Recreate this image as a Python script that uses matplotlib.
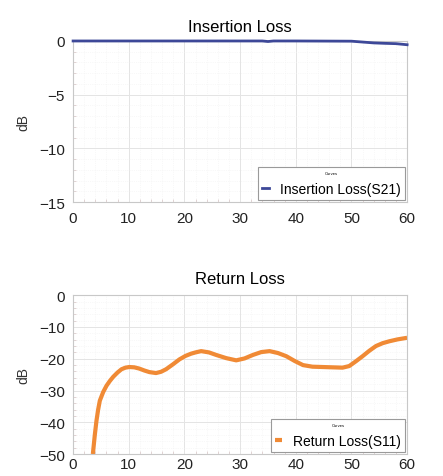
import matplotlib
matplotlib.use("Agg")
import matplotlib.pyplot as plt
from matplotlib.ticker import MultipleLocator

# --------------------------------------------------------------------------- #
# Data
# --------------------------------------------------------------------------- #
il_freq = [0, 10, 20, 30, 34, 35, 36, 40, 50, 52, 54, 56, 58, 60]
il_db = [0.0, 0.0, 0.0, 0.0, 0.0, -0.05, 0.0, 0.0, -0.02, -0.1, -0.18, -0.22, -0.25, -0.35]

rl_freq = [3.55, 3.9, 4.2, 4.5, 4.8, 5.4, 6.0, 6.6, 7.2, 8.0, 8.7, 9.4, 10.1, 11.0,
           11.9, 12.8, 13.7, 14.9, 15.8, 16.7, 17.9, 19.1, 20.2, 21.2, 22.0, 23.0,
           24.4, 25.7, 27.5, 29.3, 30.8, 32.3, 33.8, 35.3, 36.8, 38.3, 39.8, 41.3,
           43.0, 44.8, 46.6, 48.4, 49.6, 50.8, 52.0, 53.2, 54.4, 55.6, 56.8, 58.3, 60.0]
rl_db = [-50.0, -44.0, -39.5, -36.0, -33.2, -30.5, -28.5, -27.0, -25.7, -24.3, -23.3,
         -22.8, -22.6, -22.7, -23.1, -23.7, -24.2, -24.5, -24.1, -23.3, -21.8, -20.2,
         -19.1, -18.4, -18.0, -17.6, -18.0, -18.8, -19.8, -20.5, -19.9, -18.8, -17.9,
         -17.6, -18.2, -19.2, -20.7, -22.0, -22.5, -22.6, -22.7, -22.8, -22.3, -20.8,
         -19.2, -17.5, -16.0, -15.1, -14.5, -13.9, -13.4]

x_ticks = [0, 10, 20, 30, 40, 50, 60]
il_y_ticks = [0, -5, -10, -15]
rl_y_ticks = [0, -10, -20, -30, -40, -50]

FONT = ["Liberation Sans", "DejaVu Sans"]
plt.rcParams["font.family"] = FONT


def style_axes(ax, yticks, ylim, ystep_minor, xpad=6):
    ax.set_xlim(0, 60)
    ax.set_ylim(*ylim)
    ax.set_xticks(x_ticks)
    ax.set_yticks(yticks)
    ax.xaxis.set_minor_locator(MultipleLocator(2))
    ax.yaxis.set_minor_locator(MultipleLocator(ystep_minor))
    ax.grid(True, which="major", color="#e4e4e4", linewidth=0.7)
    ax.grid(True, which="minor", color="#f2f2f2", linewidth=0.5, linestyle=":")
    ax.tick_params(which="major", length=0, labelsize=11, colors="#222222", pad=6)
    ax.tick_params(axis="x", which="major", pad=xpad)
    ax.tick_params(which="minor", length=2.5, direction="in", color="#dccccc")
    for s in ax.spines.values():
        s.set_color("#c8c8c8")
        s.set_linewidth(0.8)
    ax.set_ylabel("dB", fontsize=10, color="#333333", labelpad=6)
    ax.set_facecolor("white")


fig = plt.figure(figsize=(4.43, 4.77), dpi=100)
fig.patch.set_facecolor("white")

ax1 = fig.add_axes([0.165, 0.574, 0.754, 0.338])
ax1.plot(il_freq, il_db, color="#3d4898", linewidth=2.0, label="Insertion Loss(S21)",
         clip_on=False, zorder=5)
style_axes(ax1, il_y_ticks, (-15, 0), 1)
ax1.set_title("Insertion Loss", fontsize=12, pad=7)

ax2 = fig.add_axes([0.165, 0.046, 0.754, 0.333])
ax2.plot(rl_freq, rl_db, color="#f08a35", linewidth=3.0, label="Return Loss(S11)",
         solid_joinstyle="round", solid_capstyle="butt")
style_axes(ax2, rl_y_ticks, (-50, 0), 2, xpad=2)
ax2.set_title("Return Loss", fontsize=12, pad=9)

for ax in (ax1, ax2):
    leg = ax.legend(loc="lower right", title="Curves", fontsize=10,
                    title_fontsize=3, handlelength=0.5, handletextpad=0.8,
                    borderpad=0.3, borderaxespad=0.15, fancybox=False,
                    framealpha=1, edgecolor="#9a9a9a")
    leg.get_frame().set_linewidth(0.8)

fig.savefig("out.png", dpi=100, facecolor="white")
